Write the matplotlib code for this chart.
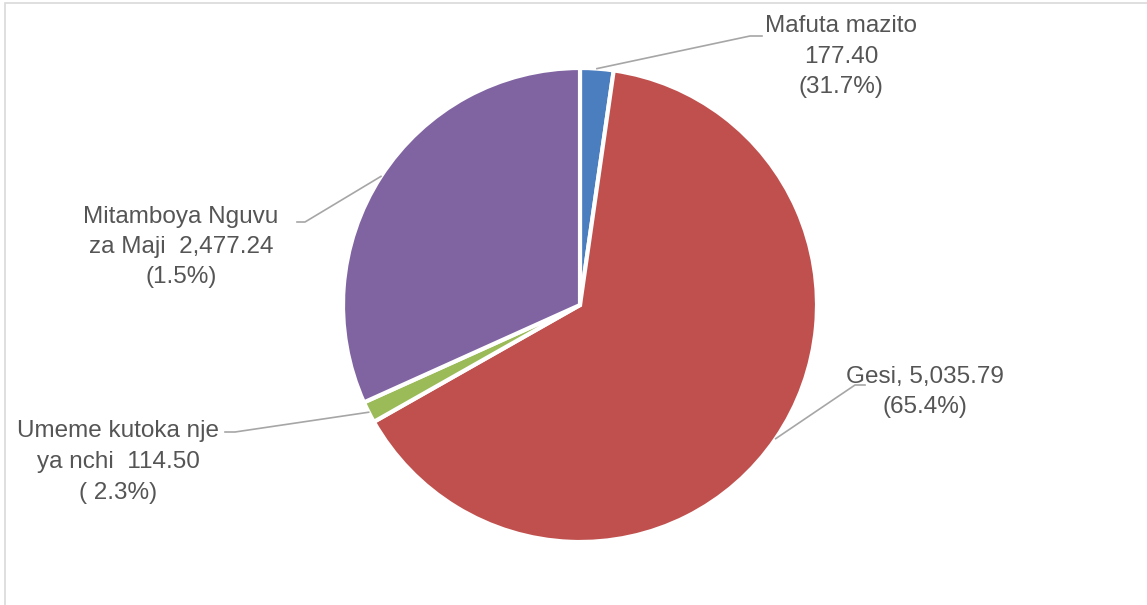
import numpy as np
import matplotlib.pyplot as plt
from matplotlib.patches import Rectangle

# slice data (clockwise from 12 o'clock)
values = [177.40, 5035.79, 114.50, 2477.24]
colors = ["#4a7ebf", "#c0504d", "#9bbb59", "#8064a2"]
labels = [
    "Mafuta mazito\n177.40\n(31.7%)",
    "Gesi, 5,035.79\n(65.4%)",
    "Umeme kutoka nje\nya nchi  114.50\n( 2.3%)",
    "Mitamboya Nguvu\nza Maji  2,477.24\n(1.5%)",
]

W, H = 1147, 605
fig = plt.figure(figsize=(W / 100, H / 100), dpi=100)
ax = fig.add_axes([0, 0, 1, 1])

cx, cy, r = 580, H - 305, 237
wedges, _ = ax.pie(values, colors=colors, startangle=90, counterclock=False,
                   center=(cx, cy), radius=r, frame=True,
                   wedgeprops=dict(edgecolor="white", linewidth=3))
ax.set_xlim(0, W)
ax.set_ylim(0, H)
ax.set_aspect("equal")
ax.axis("off")

# chart border
ax.add_patch(Rectangle((5, -10), W + 20, H - 3 + 10, fill=False,
                       edgecolor="#d9d9d9", linewidth=1.2))

# label text centre, elbow point, text-side end (px, y from top)
layout = [
    ((841, 57), (750, 36), (762, 36)),
    ((925, 392), (855, 385), (865, 385)),
    ((118, 462), (235, 432), (225, 432)),
    ((181, 247), (305, 222), (297, 222)),
]

txt_color = "#555555"
for w, lab, ((tx, ty), (ex, ey), (hx, hy)) in zip(wedges, labels, layout):
    mid = np.deg2rad((w.theta1 + w.theta2) / 2)
    px = cx + r * np.cos(mid)
    py = cy + r * np.sin(mid)
    ax.plot([px, ex, hx], [py, H - ey, H - hy], color="#a6a6a6", lw=1.2)
    ax.text(tx, H - ty, lab, ha="center", va="center", fontsize=17.5,
            color=txt_color, family="Liberation Sans", linespacing=1.5)

fig.savefig("out.png", dpi=100)
